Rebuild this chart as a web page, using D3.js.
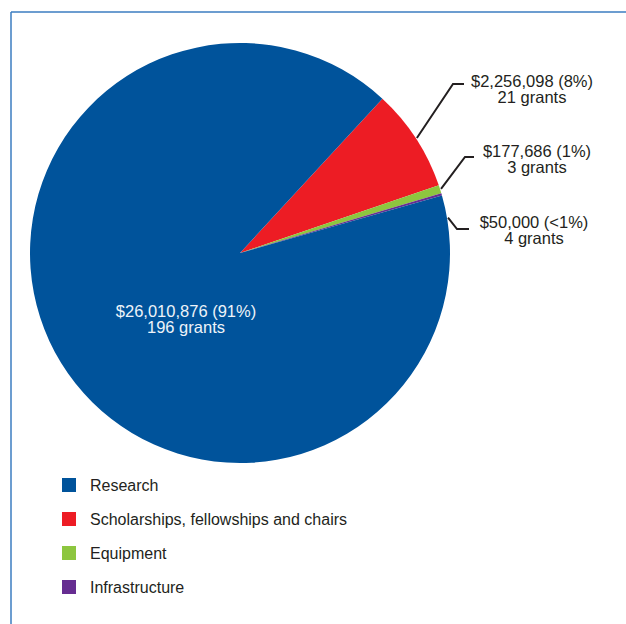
<!DOCTYPE html>
<html>
<head>
<meta charset="utf-8">
<script src="https://cdn.jsdelivr.net/npm/d3@7"></script>
<style>
  html, body { margin: 0; padding: 0; background: #fff; }
  svg { display: block; }
  text { font-family: "Liberation Sans", Arial, Helvetica, sans-serif; }
</style>
</head>
<body>
<svg id="chart" width="626" height="624"></svg>
<script>
// ---- data ----
const categories = ["Research", "Scholarships, fellowships and chairs", "Equipment", "Infrastructure"];
const amounts = [26010876, 2256098, 177686, 50000];
const grantCounts = [196, 21, 3, 4];
const percentLabels = ["91%", "8%", "1%", "<1%"];
const colors = ["#00539b", "#ed1c24", "#8dc63f", "#662d91"];

// ---- layout ----
const W = 626, H = 624;
const cx = 240, cy = 253, R = 210;
const firstSliceStartDeg = 42.7; // where the red slice begins (clockwise from 12 o'clock)

const svg = d3.select("#chart");

// frame
svg.append("line").attr("x1", 11).attr("y1", 12).attr("x2", W).attr("y2", 12)
  .attr("stroke", "#3b7dc0").attr("stroke-width", 1.5);
svg.append("line").attr("x1", 11).attr("y1", 12).attr("x2", 11).attr("y2", H)
  .attr("stroke", "#3b7dc0").attr("stroke-width", 1.5);

const data = categories.map((c, i) => ({
  cat: c, value: amounts[i], grants: grantCounts[i], pct: percentLabels[i], color: colors[i], idx: i
}));
// draw order clockwise: scholarships, equipment, infrastructure, research
const order = [1, 2, 3, 0];
const ordered = order.map(i => data[i]);

const a0 = firstSliceStartDeg * Math.PI / 180;
const pie = d3.pie().value(d => d.value).sort(null)
  .startAngle(a0).endAngle(a0 + 2 * Math.PI);
const arcs = pie(ordered);
const arc = d3.arc().innerRadius(0).outerRadius(R);

const g = svg.append("g").attr("transform", `translate(${cx},${cy})`);
g.selectAll("path").data(arcs).enter().append("path")
  .attr("d", arc)
  .attr("fill", d => d.data.color);

const fmt = d3.format(",");
const pointAt = (ang, r) => [Math.sin(ang) * r, -Math.cos(ang) * r];

// outside labels (relative layout of leader lines and text)
const outside = {
  1: { angOffset: 0,   elbow: [453, 84],  end: [464, 84],  text: [532, 87] },
  2: { angOffset: 0,   elbow: [465, 157], end: [474, 157], text: [537, 157] },
  3: { angOffset: 0.115, elbow: [457, 229], end: [469, 229], text: [534, 228] }
};
const lbl = svg.append("g");
arcs.forEach(a => {
  const i = a.data.idx;
  if (i === 0) {
    // inside label for research
    const t = lbl.append("text").attr("text-anchor", "middle")
      .attr("fill", "#eef3f9").attr("font-size", 16.5);
    t.append("tspan").attr("x", 186).attr("y", 317)
      .text(`$${fmt(a.data.value)} (${a.data.pct})`);
    t.append("tspan").attr("x", 186).attr("y", 333)
      .text(`${a.data.grants} grants`);
    return;
  }
  const L = outside[i];
  const mid = (a.startAngle + a.endAngle) / 2 + L.angOffset;
  const p = pointAt(mid, R + 1);
  lbl.append("polyline")
    .attr("points", [[cx + p[0], cy + p[1]], L.elbow, L.end].map(q => q.join(",")).join(" "))
    .attr("fill", "none").attr("stroke", "#231f20").attr("stroke-width", 2);
  const t = lbl.append("text").attr("text-anchor", "middle")
    .attr("fill", "#231f20").attr("font-size", 16.5);
  t.append("tspan").attr("x", L.text[0]).attr("y", L.text[1])
    .text(`$${fmt(a.data.value)} (${a.data.pct})`);
  t.append("tspan").attr("x", L.text[0]).attr("y", L.text[1] + 16)
    .text(`${a.data.grants} grants`);
});

// legend
const legend = svg.append("g").attr("transform", "translate(62,478)");
const rowH = 34;
const rows = legend.selectAll("g").data(data).enter().append("g")
  .attr("transform", (d, i) => `translate(0,${i * rowH})`);
rows.append("rect").attr("width", 14).attr("height", 14).attr("fill", d => d.color);
rows.append("text").attr("x", 28).attr("y", 13)
  .attr("font-size", 16).attr("fill", "#231f20").text(d => d.cat);
</script>
</body>
</html>
